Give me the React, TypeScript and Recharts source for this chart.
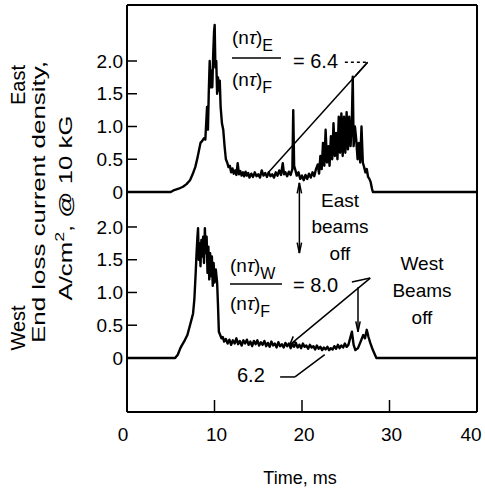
import React from "react";
import { ComposedChart, Line, XAxis, YAxis, ReferenceLine } from "recharts";

// ---- data ----
const xTicks = [0, 10, 20, 30, 40];
const leftTicks = [0, 0.5, 1.0, 1.5, 2.0];
const rightTicks = [0.5, 1.0, 1.5, 2.0];

const eastTime = [
  0, 5.0, 5.4, 5.9, 6.4, 6.8, 7.2, 7.5, 7.8, 8.0, 8.2, 8.4, 8.6, 8.8, 8.95, 9.05, 9.15, 9.25, 9.35, 9.45,
  9.55, 9.65, 9.75, 9.85, 9.95, 10.02, 10.1, 10.2, 10.3, 10.4, 10.5, 10.6, 10.7, 10.85, 11.0, 11.15, 11.3, 11.45, 11.6, 11.75,
  11.9, 12.05, 12.2, 12.35, 12.5, 12.65, 12.8, 12.95, 13.1, 13.25, 13.4, 13.55, 13.7, 13.85, 14.0, 14.2, 14.4, 14.6, 14.8, 15.0,
  15.2, 15.4, 15.6, 15.8, 16.0, 16.2, 16.4, 16.6, 16.8, 17.0, 17.2, 17.4, 17.6, 17.8, 17.95, 18.1, 18.3, 18.5, 18.7, 18.9,
  19.0, 19.1, 19.25, 19.4, 19.6, 19.8, 20.0, 20.2, 20.4, 20.6, 20.8, 21.0, 21.2, 21.4, 21.6, 21.8, 21.95, 22.1, 22.25, 22.4,
  22.55, 22.7, 22.85, 23.0, 23.15, 23.3, 23.45, 23.6, 23.75, 23.9, 24.05, 24.2, 24.35, 24.5, 24.65, 24.8, 24.95, 25.1, 25.25, 25.4,
  25.55, 25.7, 25.8, 25.9, 26.05, 26.2, 26.35, 26.5, 26.65, 26.8, 26.95, 27.1, 27.25, 27.4, 27.55, 27.7, 27.85, 28.0, 28.1, 40,
];
const eastValue = [
  0, 0, 0.03, 0.05, 0.08, 0.12, 0.18, 0.27, 0.38, 0.49, 0.62, 0.75, 0.78, 0.82, 0.8, 1.05, 1.3, 0.95, 1.55, 2.0,
  1.6, 1.85, 1.6, 2.1, 2.45, 2.55, 1.9, 2.0, 1.5, 1.75, 1.55, 1.7, 1.3, 1.05, 0.95, 0.7, 0.5, 0.45, 0.38, 0.4,
  0.3, 0.36, 0.28, 0.33, 0.26, 0.44, 0.27, 0.32, 0.25, 0.3, 0.24, 0.31, 0.25, 0.29, 0.22, 0.28, 0.23, 0.3, 0.24, 0.27,
  0.22, 0.33, 0.25, 0.29, 0.23, 0.3, 0.24, 0.27, 0.22, 0.3, 0.25, 0.33, 0.26, 0.44, 0.27, 0.3, 0.24, 0.31, 0.26, 0.35,
  1.25, 0.4, 0.33, 0.25, 0.3, 0.2, 0.25, 0.18, 0.26, 0.2, 0.28, 0.22, 0.3, 0.24, 0.35, 0.42, 0.28, 0.55, 0.35, 0.75,
  0.4, 0.95, 0.45, 0.7, 0.4, 0.85, 0.5, 1.05, 0.55, 0.9, 0.5, 1.15, 0.6, 1.2, 0.55, 1.15, 0.6, 1.22, 0.65, 1.15,
  0.7, 1.1, 1.76, 0.7, 1.0, 0.8, 0.5, 0.75, 0.45, 1.0, 0.45, 0.38, 0.3, 0.35, 0.23, 0.2, 0.15, 0.05, 0, 0,
];

const westTime = [
  0, 5.5, 5.8, 6.1, 6.3, 6.6, 6.9, 7.2, 7.4, 7.55, 7.7, 7.85, 7.95, 8.05, 8.12, 8.2, 8.3, 8.4, 8.5, 8.6,
  8.7, 8.8, 8.9, 9.0, 9.1, 9.2, 9.3, 9.4, 9.5, 9.6, 9.7, 9.8, 9.9, 10.0, 10.15, 10.3, 10.4, 10.5, 10.65, 10.8,
  10.95, 11.1, 11.3, 11.5, 11.7, 11.9, 12.1, 12.3, 12.5, 12.7, 12.9, 13.1, 13.3, 13.5, 13.7, 13.9, 14.1, 14.3, 14.5, 14.7,
  14.9, 15.1, 15.3, 15.5, 15.7, 15.9, 16.1, 16.3, 16.5, 16.7, 16.9, 17.1, 17.3, 17.5, 17.7, 17.9, 18.1, 18.3, 18.5, 18.7,
  18.9, 19.1, 19.3, 19.5, 19.7, 19.9, 20.1, 20.3, 20.5, 20.7, 20.9, 21.1, 21.3, 21.5, 21.7, 21.9, 22.1, 22.3, 22.5, 22.7,
  22.9, 23.1, 23.3, 23.5, 23.7, 23.9, 24.1, 24.3, 24.5, 24.7, 24.9, 25.1, 25.3, 25.5, 25.7, 25.9, 26.1, 26.4, 26.7, 27.0,
  27.2, 27.4, 27.6, 27.8, 28.1, 28.5, 40,
];
const westValue = [
  0, 0, 0.05, 0.15, 0.2, 0.27, 0.35, 0.5, 0.6, 0.68, 0.9, 1.3, 1.6, 1.85, 1.98, 1.5, 1.75, 1.4, 1.8, 1.55,
  1.85, 1.45, 1.98, 1.6, 1.85, 1.3, 1.7, 1.2, 1.6, 1.25, 1.55, 1.1, 1.45, 1.15, 1.35, 1.15, 0.8, 0.4, 0.35, 0.3,
  0.32, 0.25, 0.29, 0.22, 0.28, 0.2, 0.27, 0.22, 0.3, 0.21, 0.26, 0.19, 0.27, 0.22, 0.28, 0.2, 0.25, 0.18, 0.26, 0.21,
  0.27, 0.19, 0.24, 0.2, 0.26, 0.18, 0.23, 0.17, 0.25, 0.19, 0.22, 0.16, 0.24, 0.18, 0.21, 0.16, 0.23, 0.18, 0.22, 0.15,
  0.21, 0.17, 0.23, 0.16, 0.2, 0.15, 0.22, 0.17, 0.19, 0.14, 0.2, 0.16, 0.18, 0.13, 0.19, 0.14, 0.17, 0.12, 0.16, 0.13,
  0.17, 0.12, 0.15, 0.13, 0.18, 0.14, 0.2, 0.15, 0.19, 0.16, 0.22, 0.17, 0.2, 0.3, 0.4, 0.2, 0.12, 0.15, 0.25, 0.35,
  0.3, 0.43, 0.32, 0.23, 0.12, 0, 0,
];

const eastData = eastTime.map((t, i) => ({ t, v: eastValue[i] }));
const westData = westTime.map((t, i) => ({ t, v: westValue[i] }));

// panel vertical placement (shared frame): West panel sits WEST_OFFSET units below East
const WEST_OFFSET = 2.534;
const eastDomain = [-3.359, 2.855];
const westDomain = [eastDomain[0] + WEST_OFFSET, eastDomain[1] + WEST_OFFSET];
const r2 = (v: number) => Math.round(v * 1000) / 1000;
const combinedLeftTicks = [...leftTicks.map((v) => r2(v - WEST_OFFSET)), ...leftTicks];
const combinedRightTicks = [...rightTicks.map((v) => r2(v - WEST_OFFSET)), ...rightTicks];
const fmt = (v: number) => {
  const w = v < -0.01 ? r2(v + WEST_OFFSET) : v;
  return Math.abs(w) < 0.001 ? "0" : w.toFixed(1);
};

const FONT = "'Liberation Sans', Arial, Helvetica, sans-serif";
const xLabelNudge = [-4, 2, 2, 2, -6];

const seg = (a: [number, number], b: [number, number]) => [
  { x: a[0], y: a[1] },
  { x: b[0], y: b[1] },
];

const eastNotes: [number, number][][] = [
  [[27.5, 1.98], [26.1, 1.77]],
  [[27.5, 1.98], [16.1, 0.29]],
  [[19.7, 0.14], [19.7, -0.93]],
  [[19.7, 0.14], [19.45, -0.02]],
  [[19.7, 0.14], [19.95, -0.02]],
];
const eastDotted: [number, number][][] = [[[24.9, 1.98], [27.5, 1.98]]];
const westNotes: [number, number][][] = [
  [[19.45, 1.76], [19.7, 1.6]],
  [[19.95, 1.76], [19.7, 1.6]],
  [[25.7, 1.16], [27.8, 1.22]],
  [[27.8, 1.22], [18.6, 0.2]],
  [[18.6, 0.2], [19.3, 0.25]],
  [[18.6, 0.2], [19.0, 0.33]],
  [[26.4, 1.08], [26.4, 0.4]],
  [[26.4, 0.4], [26.15, 0.56]],
  [[26.4, 0.4], [26.65, 0.56]],
  [[17.5, -0.29], [19.2, -0.29]],
  [[19.2, -0.29], [22.6, 0.05]],
];

function Frac({ x, y, sub }: { x: number; y: number; sub: string }) {
  return (
    <text x={x} y={y} fontSize={19} fontFamily={FONT} fill="#000">
      (n<tspan fontStyle="italic">τ</tspan>)<tspan fontSize={16} dy={7}>{sub}</tspan>
    </text>
  );
}

function XTick(props: any) {
  const { x, y, payload, index } = props;
  return (
    <text x={x + (xLabelNudge[index] || 0)} y={y} dy={15} textAnchor="middle" fontSize={19} fontFamily={FONT} fill="#000">
      {payload.value}
    </text>
  );
}

export default function App() {
  const axisLine = { stroke: "#000", strokeWidth: 2 };
  const tickLine = { stroke: "#000", strokeWidth: 1.5 };
  const tickStyle = { fill: "#000", fontSize: 19, fontFamily: FONT };
  return (
    <div style={{ position: "absolute", left: 0, top: 0, width: 485, height: 496, background: "#fff" }}>
      <ComposedChart width={485} height={496} margin={{ top: 4, right: 7, bottom: 54, left: 126 }}>
        <XAxis xAxisId="b" type="number" dataKey="t" domain={[0, 40]} ticks={xTicks} orientation="bottom"
          height={30} tickSize={-12} tickMargin={26} axisLine={axisLine} tickLine={tickLine} tick={<XTick />}
          interval={0} allowDataOverflow />
        <XAxis xAxisId="t" type="number" dataKey="t" domain={[0, 40]} ticks={xTicks} orientation="top"
          height={1} tickSize={-14} axisLine={axisLine} tickLine={tickLine} tick={false} interval={0} allowDataOverflow />
        <YAxis yAxisId="E" type="number" domain={eastDomain} ticks={combinedLeftTicks} width={1} tickSize={-10}
          tickMargin={14} axisLine={axisLine} tickLine={tickLine} tick={tickStyle} tickFormatter={fmt}
          interval={0} allowDataOverflow />
        <YAxis yAxisId="W" type="number" domain={westDomain} hide allowDataOverflow />
        <YAxis yAxisId="ER" orientation="right" type="number" domain={eastDomain} ticks={combinedRightTicks} width={1}
          tickSize={-12} axisLine={axisLine} tickLine={tickLine} tick={false} interval={0} allowDataOverflow />
        <Line xAxisId="b" yAxisId="E" data={eastData} dataKey="v" type="linear" dot={false} stroke="#000"
          strokeWidth={2.4} strokeLinejoin="round" isAnimationActive={false} />
        <Line xAxisId="b" yAxisId="W" data={westData} dataKey="v" type="linear" dot={false} stroke="#000"
          strokeWidth={2.4} strokeLinejoin="round" isAnimationActive={false} />
        {eastNotes.map((s, i) => (
          <ReferenceLine key={"e" + i} xAxisId="b" yAxisId="E" segment={seg(s[0], s[1])} stroke="#000"
            strokeWidth={1.5} ifOverflow="visible" />
        ))}
        {eastDotted.map((s, i) => (
          <ReferenceLine key={"d" + i} xAxisId="b" yAxisId="E" segment={seg(s[0], s[1])} stroke="#000"
            strokeWidth={1.5} strokeDasharray="3 3" ifOverflow="visible" />
        ))}
        {westNotes.map((s, i) => (
          <ReferenceLine key={"w" + i} xAxisId="b" yAxisId="W" segment={seg(s[0], s[1])} stroke="#000"
            strokeWidth={1.5} ifOverflow="visible" />
        ))}
      </ComposedChart>
      <svg width={485} height={496} style={{ position: "absolute", left: 0, top: 0, pointerEvents: "none" }}>
        <g fontFamily={FONT} fill="#000">
          <text x={25} y={85} fontSize={20} textAnchor="middle" transform="rotate(-90 25 85)">East</text>
          <text x={25} y={328} fontSize={20} textAnchor="middle" transform="rotate(-90 25 328)">West</text>
          <text x={45} y={202} fontSize={19} textAnchor="middle" textLength={282} lengthAdjust="spacingAndGlyphs"
            transform="rotate(-90 45 202)">End loss current density,</text>
          <text x={72} y={208} fontSize={19} textAnchor="middle" textLength={185} lengthAdjust="spacingAndGlyphs"
            transform="rotate(-90 72 208)">
            A/cm<tspan fontSize={13} dy={-8}>2</tspan><tspan dy={8}>, @ 10 kG</tspan>
          </text>
          <text x={300} y={484} fontSize={18} textAnchor="middle">Time, ms</text>

          <Frac x={232} y={44} sub="E" />
          <line x1={232} y1={58} x2={281} y2={58} stroke="#000" strokeWidth={1.5} />
          <Frac x={232} y={86} sub="F" />
          <text x={293} y={68} fontSize={20}>= 6.4</text>

          <Frac x={230} y={272} sub="W" />
          <line x1={230} y1={284} x2={282} y2={284} stroke="#000" strokeWidth={1.5} />
          <Frac x={230} y={310} sub="F" />
          <text x={293} y={292} fontSize={20}>= 8.0</text>
          <text x={237} y={382} fontSize={20}>6.2</text>

          <text x={340} y={207} fontSize={19} textAnchor="middle">East</text>
          <text x={340} y={233} fontSize={19} textAnchor="middle">beams</text>
          <text x={340} y={260} fontSize={19} textAnchor="middle">off</text>

          <text x={422} y={270} fontSize={19} textAnchor="middle">West</text>
          <text x={422} y={297} fontSize={19} textAnchor="middle">Beams</text>
          <text x={422} y={324} fontSize={19} textAnchor="middle">off</text>
        </g>
      </svg>
    </div>
  );
}
